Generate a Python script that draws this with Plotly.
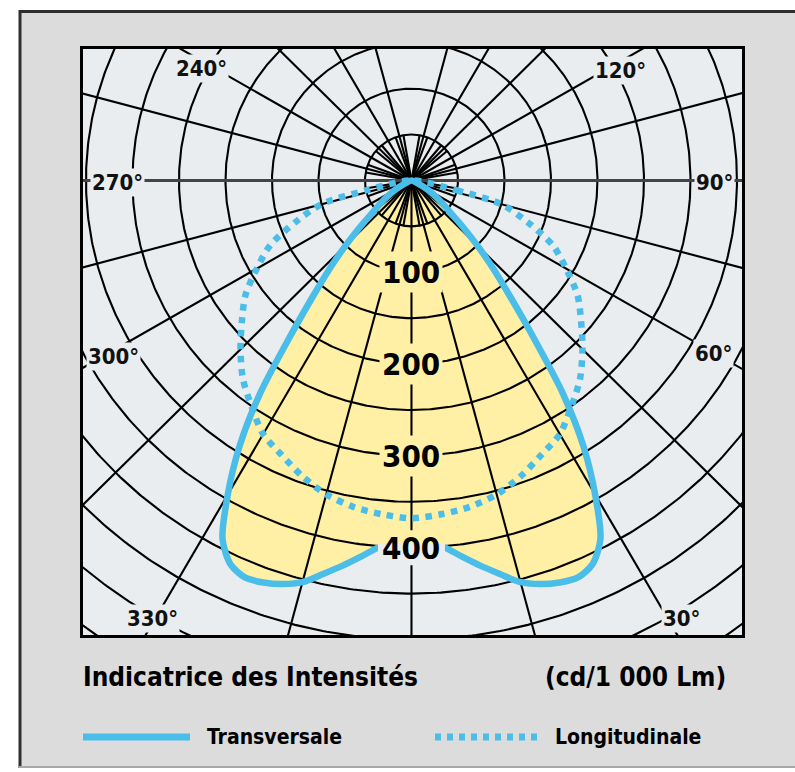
import numpy as np
import plotly.graph_objects as go

# Luminous intensity distribution, cd per 1000 lm.
# Angles measured from the nadir (0°); both curves are symmetric about it.
trans_angles = [0, 2.5, 5, 7.5, 10, 12.5, 15, 17.5, 20, 22.5, 25, 27.5, 30,
                32.5, 35, 37.5, 40, 42.5, 45, 47.5, 50, 55, 60, 65, 70]
trans_values = [395, 396, 401, 413, 426, 439, 453, 461, 466, 468, 461, 440, 395,
                345, 285, 215, 165, 130, 100, 75, 55, 35, 20, 8, 0]

long_angles = [0, 5, 10, 15, 20, 25, 30, 35, 40, 45, 50, 55, 60, 65, 70, 75, 77.5, 80]
long_values = [368, 365, 361, 354, 343, 330, 319, 300, 282, 260, 238, 218, 192,
               168, 133, 100, 50, 0]

ring_labels = [100, 200, 300, 400]
ring_steps = list(range(50, 701, 50))
spoke_angles = [a for a in range(0, 360, 15) if a not in (90, 180, 270)]
inner_spoke_angles = [a for a in range(0, 360, 10) if a % 30 != 0]
angle_labels = ["240°", "120°", "270°", "90°", "300°", "60°", "330°", "30°"]

title_text = "Indicatrice des Intensités"
unit_text = "(cd/1 000 Lm)"
legend_names = ["Transversale", "Longitudinale"]

# ---- styling / layout constants ----
W, H = 795, 772
ML, MR, MT, MB = 83, 53, 49, 137
BLUE = "#4ABDE8"
YELLOW = "#FFF0A6"
PLOT_BG = "#E9EDEF"
PAPER_BG = "#DCDCDC"
GRID = "#000000"
FONT = "DejaVu Sans Condensed, DejaVu Sans, sans-serif"

X_RANGE = [-353.2, 355.4]
Y_RANGE = [-495.1, 143.2]
INNER_SPOKE_LEN = 50

# label anchor points (data units) for the angle captions
angle_label_pos = [(-226, 121.5), (225, 119.5), (-316.5, -2.5), (326, -2),
                   (-320, -192), (325, -189), (-278, -477.5), (290, -477.5)]


def to_xy(angles_deg, radii):
    a = np.radians(np.asarray(angles_deg, dtype=float))
    r = np.asarray(radii, dtype=float)
    return r * np.sin(a), -r * np.cos(a)


def mirrored(angles, values):
    # right half from the outermost angle down to nadir, then the left half back up
    ang = list(angles[::-1]) + [360 - a for a in angles[1:]]
    val = list(values[::-1]) + list(values[1:])
    return to_xy(ang, val)


def px_x(px):
    return (px - ML) / (W - ML - MR)


def px_y(py):
    return (H - MB - py) / (H - MT - MB)


tx, ty = mirrored(trans_angles, trans_values)
lx, ly = mirrored(long_angles, long_values)

fig = go.Figure()

# yellow area under the transverse curve
fig.add_trace(go.Scatter(x=tx, y=ty, mode="lines", fill="toself", fillcolor=YELLOW,
                         line=dict(width=0, shape="spline", smoothing=0.8),
                         hoverinfo="skip"))

# polar grid: rings, long spokes and the short central spokes
gx, gy = [], []
theta = np.linspace(0, 360, 721)
for r in ring_steps:
    cx, cy = to_xy(theta, np.full_like(theta, r))
    gx += list(cx) + [None]
    gy += list(cy) + [None]
for a in spoke_angles:
    sx, sy = to_xy([a, a], [0, 800])
    gx += list(sx) + [None]
    gy += list(sy) + [None]
for a in inner_spoke_angles:
    sx, sy = to_xy([a, a], [0, INNER_SPOKE_LEN])
    gx += list(sx) + [None]
    gy += list(sy) + [None]
fig.add_trace(go.Scatter(x=gx, y=gy, mode="lines",
                         line=dict(color=GRID, width=2.1), hoverinfo="skip"))

hx, hy = to_xy([90, 270], [800, 800])
fig.add_trace(go.Scatter(x=hx, y=hy, mode="lines",
                         line=dict(color="#444444", width=3), hoverinfo="skip"))

# longitudinal (dotted) and transverse (solid) curves
fig.add_trace(go.Scatter(x=lx, y=ly, mode="lines", name=legend_names[1],
                         line=dict(color=BLUE, width=6.5, dash="dot",
                                   shape="spline", smoothing=0.8),
                         hoverinfo="skip"))
fig.add_trace(go.Scatter(x=tx, y=ty, mode="lines", name=legend_names[0],
                         line=dict(color=BLUE, width=6.5, shape="spline", smoothing=0.8),
                         hoverinfo="skip"))

annotations = []
for v in ring_labels:
    # the outermost label straddles the curve, its backing is drawn by two shapes
    annotations.append(dict(x=0, y=-v, xref="x", yref="y", text=f"<b>{v}</b>",
                            showarrow=False,
                            bgcolor=YELLOW if v < trans_values[0] else "rgba(0,0,0,0)",
                            borderpad=2,
                            font=dict(family=FONT, size=31, color="#000")))
for txt, (ax_, ay_) in zip(angle_labels, angle_label_pos):
    annotations.append(dict(x=ax_, y=ay_, xref="x", yref="y", text=f"<b>{txt}</b>",
                            showarrow=False, bgcolor=PLOT_BG, borderpad=1,
                            font=dict(family=FONT, size=22, color="#111")))

annotations += [
    dict(x=px_x(81), y=px_y(677), xref="paper", yref="paper", xanchor="left",
         yanchor="middle", text=f"<b>{title_text}</b>", showarrow=False,
         font=dict(family=FONT, size=26, color="#000")),
    dict(x=px_x(728), y=px_y(677), xref="paper", yref="paper", xanchor="right",
         yanchor="middle", text=f"<b>{unit_text}</b>", showarrow=False,
         font=dict(family=FONT, size=26, color="#000")),
    dict(x=px_x(205), y=px_y(737), xref="paper", yref="paper", xanchor="left",
         yanchor="middle", text=f"<b>{legend_names[0]}</b>", showarrow=False,
         font=dict(family=FONT, size=21, color="#000")),
    dict(x=px_x(553), y=px_y(737), xref="paper", yref="paper", xanchor="left",
         yanchor="middle", text=f"<b>{legend_names[1]}</b>", showarrow=False,
         font=dict(family=FONT, size=21, color="#000")),
]

# backing for the outermost ring label: yellow inside the curve, plain below it
lbl_half_w, lbl_half_h = 36, 19
edge = -trans_values[0]
lbl_ring = -ring_labels[-1]

shapes = [
    dict(type="rect", xref="x", yref="y", x0=-lbl_half_w, x1=lbl_half_w,
         y0=edge, y1=lbl_ring + lbl_half_h, fillcolor=YELLOW, line=dict(width=0),
         layer="above"),
    dict(type="rect", xref="x", yref="y", x0=-lbl_half_w, x1=lbl_half_w,
         y0=lbl_ring - lbl_half_h, y1=edge, fillcolor=PLOT_BG, line=dict(width=0),
         layer="above"),
    # white margins around the card
    dict(type="rect", xref="paper", yref="paper", x0=px_x(0), x1=px_x(19), y0=px_y(0),
         y1=px_y(H), fillcolor="white", line=dict(width=0), layer="below"),
    dict(type="rect", xref="paper", yref="paper", x0=px_x(0), x1=px_x(W), y0=px_y(0),
         y1=px_y(10), fillcolor="white", line=dict(width=0), layer="below"),
    dict(type="rect", xref="paper", yref="paper", x0=px_x(0), x1=px_x(W), y0=px_y(768),
         y1=px_y(H), fillcolor="white", line=dict(width=0), layer="below"),
    # card border
    dict(type="line", xref="paper", yref="paper", x0=px_x(20), x1=px_x(20), y0=px_y(10),
         y1=px_y(768), line=dict(color="#2f2f2f", width=3)),
    dict(type="line", xref="paper", yref="paper", x0=px_x(19), x1=px_x(W), y0=px_y(11.5),
         y1=px_y(11.5), line=dict(color="#2f2f2f", width=3)),
    dict(type="line", xref="paper", yref="paper", x0=px_x(19), x1=px_x(W), y0=px_y(767),
         y1=px_y(767), line=dict(color="#a8a8a8", width=2)),
    # legend keys
    dict(type="line", xref="paper", yref="paper", x0=px_x(83), x1=px_x(190), y0=px_y(737),
         y1=px_y(737), line=dict(color=BLUE, width=7)),
    dict(type="line", xref="paper", yref="paper", x0=px_x(435), x1=px_x(543), y0=px_y(737),
         y1=px_y(737), line=dict(color=BLUE, width=7, dash="6px,6px")),
]

axis_common = dict(showgrid=False, zeroline=False, showticklabels=False, ticks="",
                   showline=True, mirror=True, linecolor="#000", linewidth=3,
                   fixedrange=True)

fig.update_layout(
    width=W, height=H,
    margin=dict(l=ML, r=MR, t=MT, b=MB, pad=0),
    paper_bgcolor=PAPER_BG, plot_bgcolor=PLOT_BG,
    showlegend=False, hovermode=False,
    xaxis=dict(range=X_RANGE, **axis_common),
    yaxis=dict(range=Y_RANGE, **axis_common),
    annotations=annotations, shapes=shapes,
)

fig.write_html("out.html")
